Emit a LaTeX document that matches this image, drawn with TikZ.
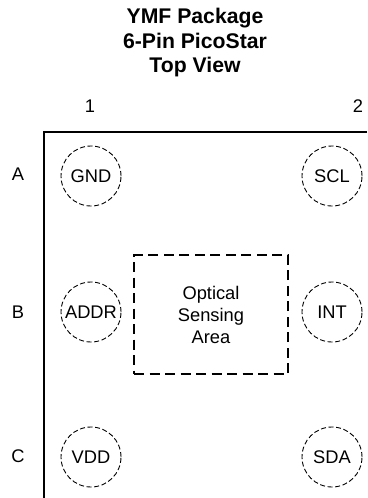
\documentclass[tikz,border=0pt]{standalone}
\usepackage{fontspec}
\setmainfont{Liberation Sans}
\tikzset{
 px/.style={x=1pt,y=-1pt},
 pin/.style={circle,draw=black,dash pattern=on 5pt off 2.6pt,line width=0.9pt,minimum size=60pt,inner sep=0pt,font=\fontsize{18.3}{22}\selectfont},
 lab/.style={font=\fontsize{18.3}{22}\selectfont,inner sep=0pt},
 ttl/.style={font=\bfseries\fontsize{21.2}{24.5}\selectfont,align=center,inner sep=0pt},
 area/.style={draw=black,dash pattern=on 10pt off 5.5pt,line width=2pt,minimum width=154pt,minimum height=119pt,inner sep=0pt,align=center,font=\fontsize{18.3}{22}\selectfont}
}
\begin{document}
\begin{tikzpicture}[px]
\useasboundingbox (0,0) rectangle (367,498);
\node[ttl] (title) at (195,43) {YMF Package\\6-Pin PicoStar\\Top View};
\node[lab] (c1) at (90,106) {1};
\node[lab] (c2) at (358,106) {2};
\node[lab] (ra) at (18,174) {A};
\node[lab] (rb) at (18,312) {B};
\node[lab] (rc) at (18,456) {C};
\coordinate (tr) at (367,131.7);
\coordinate (tl) at (44.3,131.7);
\coordinate (bl) at (44.3,498);
\draw[line width=2pt] (tr) -- (tl) -- (bl);
\node[pin] (gnd) at (91,176) {GND};
\node[pin] (scl) at (332,176) {SCL};
\node[pin] (addr) at (91,312) {ADDR};
\node[pin] (int) at (332,312) {INT};
\node[pin] (vdd) at (91,457) {VDD};
\node[pin] (sda) at (332,457) {SDA};
\node[area] (sens) at (211,314.5) {Optical\\Sensing\\Area};
\end{tikzpicture}
\end{document}
